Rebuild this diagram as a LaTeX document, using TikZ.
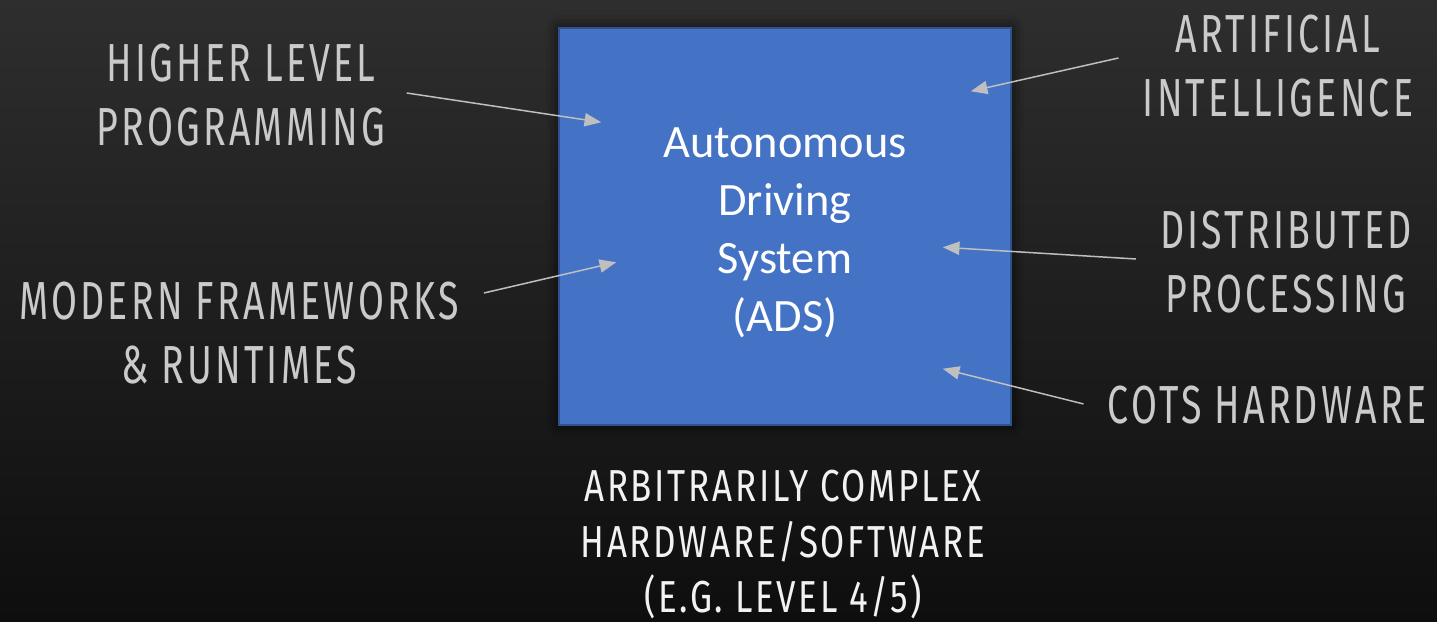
\documentclass[tikz,border=0pt]{standalone}
\usepackage{fontspec}
\setmainfont{Carlito}
\newfontfamily\capsfont[FakeStretch=0.7,LetterSpace=6]{Fira Sans}
\newfontfamily\notefont[FakeStretch=0.78,LetterSpace=6]{Fira Sans}
\usetikzlibrary{arrows.meta,calc,shadows.blur}
\definecolor{bgtop}{HTML}{2E2E2E}
\definecolor{bgbot}{HTML}{0E0E0E}
\definecolor{adsblue}{HTML}{4472C4}
\definecolor{adsedge}{HTML}{2F528F}
\definecolor{taggray}{HTML}{CACACA}
\definecolor{notewhite}{HTML}{F2F2F2}
\definecolor{arrgray}{HTML}{BFBFBF}

\begin{document}
\begin{tikzpicture}[
  x=0.02cm,y=-0.02cm,
  >={Triangle[length=9.5pt,width=7.5pt]},
  tag/.style={font=\capsfont\fontsize{30.5}{36.3}\selectfont,text=taggray,
              align=center,inner sep=0pt,anchor=north},
  note/.style={font=\notefont\fontsize{25.5}{31.5}\selectfont,text=notewhite,
               align=center,inner sep=0pt,anchor=north},
  adsbox/.style={draw=adsedge,fill=adsblue,line width=0.9pt,
                 minimum width=9.04cm,minimum height=7.94cm,
                 blur shadow={shadow xshift=0pt,shadow yshift=0pt,
                              shadow blur radius=7pt,shadow opacity=80}},
  adstext/.style={font=\fontsize{26.4}{33}\selectfont,text=white,
                  align=center,inner sep=0pt,anchor=north},
  feed/.style={->,draw=arrgray,line width=0.85pt},
]

% ---------- background ----------
\fill[top color=bgtop,bottom color=bgbot] (0,0) rectangle (1437,622);

% ---------- the system in the middle ----------
\node[adsbox] (ads) at (785,226.5) {};
\node[adstext] (adst) at (785,127) {Autonomous\\Driving\\System\\(ADS)};

% ---------- what feeds into it ----------
\node[tag] (hlp) at (241,44) {HIGHER LEVEL\\PROGRAMMING};
\node[tag] (mfr) at (239,282) {MODERN FRAMEWORKS\\\& RUNTIMES};
\node[tag] (ai) at (1278,15) {ARTIFICIAL\\INTELLIGENCE};
\node[tag] (dp) at (1286,211) {DISTRIBUTED\\PROCESSING};
\node[tag] (cots) at (1267,386) {COTS HARDWARE};

\node[note] (cplx) at (783,470) {ARBITRARILY COMPLEX\\HARDWARE/SOFTWARE\\(E.G. LEVEL 4/5)};

% arrow heads sit inside the box
\coordinate (hlpin) at ($(ads.north west)+(43,95)$);
\coordinate (mfrin) at ($(ads.north west)+(58,235)$);
\coordinate (aiin) at ($(ads.north east)+(-41,64)$);
\coordinate (dpin) at ($(ads.north east)+(-69,220)$);
\coordinate (cotsin) at ($(ads.south east)+(-69,-57)$);

\draw[feed] ($(hlp.north east)+(21,49)$) -- (hlpin);
\draw[feed] ($(mfr.north east)+(25,11)$) -- (mfrin);
\draw[feed] ($(ai.north west)+(-24,43)$) -- (aiin);
\draw[feed] ($(dp.north west)+(-24,48)$) -- (dpin);
\draw[feed] ($(cots.west)+(-24,-1.5)$) -- (cotsin);

\end{tikzpicture}
\end{document}
